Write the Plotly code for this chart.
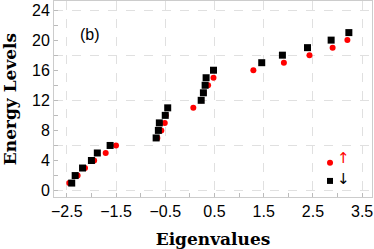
import plotly.graph_objects as go

# Spin-down (black squares) levels and eigenvalues
levels_down = list(range(1, 22))
eig_down = [-2.40, -2.33, -2.18, -2.00, -1.88, -1.62, -0.685, -0.64, -0.62, -0.50, -0.45,
            0.23, 0.275, 0.31, 0.33, 0.48, 1.46, 1.88, 2.39, 2.87, 3.23]

# Spin-up (red circles) levels and eigenvalues
levels_up = list(range(1, 21))
eig_up = [-2.45, -2.28, -2.13, -1.945, -1.71, -1.50, -0.66, -0.58, -0.51, -0.49, 0.07,
          0.23, 0.28, 0.37, 0.48, 1.29, 1.91, 2.43, 2.90, 3.20]

x_ticks = [-2.5, -1.5, -0.5, 0.5, 1.5, 2.5, 3.5]
x_ticklabels = ["\u22122.5", "\u22121.5", "\u22120.5", "0.5", "1.5", "2.5", "3.5"]
y_ticks = [0, 4, 8, 12, 16, 20, 24]

RED = "#ff0000"
BLACK = "#000000"

fig = go.Figure()
fig.add_trace(go.Scatter(
    x=eig_up, y=levels_up, mode="markers", name="\u2191",
    marker=dict(symbol="circle", size=6, color=RED),
))
fig.add_trace(go.Scatter(
    x=eig_down, y=levels_down, mode="markers", name="\u2193",
    marker=dict(symbol="square", size=7, color=BLACK),
))
# invisible trace on overlay axis for y gridlines every 6
fig.add_trace(go.Scatter(x=[None], y=[None], yaxis="y2", showlegend=False, hoverinfo="skip"))

axis_common = dict(
    showline=True, linecolor="#cccccc", linewidth=1, mirror=True,
    ticks="inside", ticklen=4, tickcolor="#bbbbbb", tickwidth=1,
    zeroline=False, automargin=False,
    tickfont=dict(family="Liberation Sans, Arial, sans-serif", size=16, color="#000000"),
)

# custom legend key (layout items in paper coordinates)
legend_shapes = [
    dict(type="circle", xref="paper", yref="paper", xsizemode="pixel", ysizemode="pixel",
         xanchor=0.868, yanchor=0.175, x0=-3, x1=3, y0=-3, y1=3,
         fillcolor=RED, line=dict(width=0)),
    dict(type="rect", xref="paper", yref="paper", xsizemode="pixel", ysizemode="pixel",
         xanchor=0.868, yanchor=0.082, x0=-3, x1=3, y0=-3, y1=3,
         fillcolor=BLACK, line=dict(width=0)),
]
legend_texts = [
    dict(text="\u2191", xref="paper", yref="paper", x=0.909, y=0.199, xanchor="center",
         yanchor="middle", showarrow=False,
         font=dict(family="DejaVu Sans, sans-serif", size=15, color=RED)),
    dict(text="\u2193", xref="paper", yref="paper", x=0.909, y=0.092, xanchor="center",
         yanchor="middle", showarrow=False,
         font=dict(family="DejaVu Sans, sans-serif", size=15, color=BLACK)),
]

fig.update_layout(
    width=374, height=249,
    margin=dict(l=54, r=2, t=1, b=52),
    paper_bgcolor="white", plot_bgcolor="white",
    showlegend=False,
    xaxis=dict(
        range=[-2.76, 3.7],
        tickmode="array", tickvals=x_ticks, ticktext=x_ticklabels,
        showgrid=True, gridcolor="#e0e0e0", griddash="dash", gridwidth=1,
        minor=dict(dtick=0.5, tick0=0, ticks="inside", ticklen=4, tickcolor="#bbbbbb", showgrid=False),
        title=dict(text="<b>Eigenvalues</b>",
                   font=dict(family="DejaVu Serif, serif", size=17, color="#000000")),
        **axis_common,
    ),
    yaxis=dict(
        range=[-0.85, 25.2],
        tickmode="array", tickvals=y_ticks,
        showgrid=False,
        minor=dict(dtick=2, tick0=0, ticks="inside", ticklen=4, tickcolor="#bbbbbb", showgrid=False),
        title=dict(text="<b>Energy Levels</b>",
                   font=dict(family="DejaVu Serif, serif", size=17, color="#000000")),
        **axis_common,
    ),
    yaxis2=dict(
        overlaying="y", range=[-0.85, 25.2], tickmode="linear", tick0=0, dtick=6,
        showgrid=True, gridcolor="#e0e0e0", griddash="dash", gridwidth=1,
        showticklabels=False, ticks="", zeroline=False, showline=False,
        layer="below traces",
    ),
    shapes=legend_shapes,
    annotations=[dict(text="(b)", xref="paper", yref="paper", x=0.113, y=0.83,
                      xanchor="center", yanchor="middle", showarrow=False,
                      font=dict(family="Liberation Sans, Arial, sans-serif",
                                size=16, color="#000000"))] + legend_texts,
)

fig.write_html("out.html", config={"displayModeBar": False},
               post_script="document.body.style.margin='0';")
